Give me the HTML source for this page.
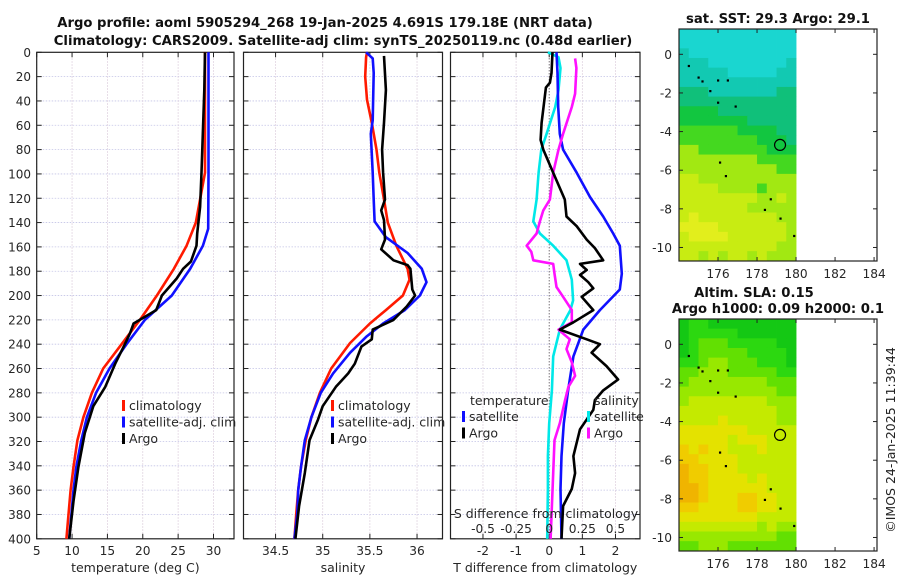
<!DOCTYPE html>
<html><head><meta charset="utf-8"><style>
html,body{margin:0;padding:0;background:#fff;}
svg{display:block;font-family:"DejaVu Sans","Liberation Sans",sans-serif;}
</style></head><body>
<svg id="fig" width="900" height="580" viewBox="0 0 900 580" xmlns="http://www.w3.org/2000/svg">
<text x="325" y="27" text-anchor="middle" font-size="13.2" font-weight="bold" fill="#111">Argo profile: aoml 5905294_268 19-Jan-2025 4.691S 179.18E (NRT data)</text>
<text x="343" y="45" text-anchor="middle" font-size="13.2" font-weight="bold" fill="#111">Climatology: CARS2009. Satellite-adj clim: synTS_20250119.nc (0.48d earlier)</text>
<text x="778" y="23" text-anchor="middle" font-size="13.2" font-weight="bold" fill="#111">sat. SST: 29.3 Argo: 29.1</text>
<text x="754" y="297" text-anchor="middle" font-size="13.2" font-weight="bold" fill="#111">Altim. SLA: 0.15</text>
<text x="778" y="313" text-anchor="middle" font-size="13.2" font-weight="bold" fill="#111">Argo h1000: 0.09 h2000: 0.1</text>
<text transform="translate(895,440) rotate(-90)" text-anchor="middle" font-size="12.5" fill="#222">©IMOS 24-Jan-2025 11:39:44</text>
<g id="layer"></g>
</svg>
<script>
// ---- profile data (depth in m) ----
const tClimDepth = [0,50,99,140,159,178,200,220,240,260,280,300,319,341,360,380,400];
const tClimVal   = [28.8,28.8,28.8,27.5,26.2,24.4,22.0,19.6,17.0,14.4,12.8,11.6,10.75,10.2,9.8,9.5,9.2];
const tSatDepth  = [0,50,100,145,159,178,200,220,240,260,280,300,319,341,360,380,400];
const tSatVal    = [29.3,29.3,29.3,29.25,28.5,26.7,24.1,20.3,17.7,15.3,13.4,12.1,11.3,10.6,10.2,9.9,9.6];
const tArgoDepth = [0,31,99,127,149,159,172,178,186,200,212,223,231,242,256,275,291,313,341,369,400];
const tArgoVal   = [28.8,28.7,28.3,28.1,27.7,27.6,26.8,25.7,24.8,22.7,21.9,18.7,18.2,17.3,16.1,14.7,13.0,11.8,10.9,10.2,9.6];

const sClimDepth = [0,4,20,39,58,80,99,121,140,159,178,187,200,212,223,239,260,280,300,319,341,360,379,400];
const sClimVal   = [35.47,35.46,35.45,35.47,35.52,35.57,35.60,35.65,35.69,35.78,35.90,35.92,35.85,35.67,35.50,35.29,35.09,34.97,34.88,34.82,34.77,34.74,34.72,34.70];
const sSatDepth  = [0,5,17,56,67,99,121,139,152,165,178,189,200,212,223,234,247,264,280,300,319,341,360,379,400];
const sSatVal    = [35.46,35.53,35.54,35.53,35.51,35.53,35.54,35.55,35.67,35.90,36.05,36.10,36.03,35.87,35.64,35.46,35.29,35.11,34.98,34.88,34.81,34.77,34.74,34.73,34.70];
const sArgoDepth = [3,31,58,80,99,121,130,138,154,162,171,175,178,187,195,200,209,220,228,236,242,256,264,275,291,302,319,346,373,400];
const sArgoVal   = [35.65,35.67,35.65,35.63,35.64,35.66,35.62,35.65,35.66,35.62,35.75,35.90,35.93,35.94,35.95,35.98,35.89,35.75,35.53,35.52,35.41,35.34,35.27,35.14,35.00,34.95,34.86,34.81,34.75,34.71];

const dtSatDepth = [0,17,45,67,80,99,119,135,149,159,182,195,212,228,250,278,305,332,359,400];
const dtSatVal   = [0.22,0.25,0.27,0.32,0.42,0.83,1.23,1.63,1.93,2.13,2.19,2.13,1.53,1.03,0.73,0.57,0.44,0.37,0.34,0.37];
const dtArgoDepth = [0,17,25,29,58,72,80,99,121,135,143,154,161,171,174,179,183,189,194,201,212,222,228,236,240,247,258,269,278,286,294,310,332,346,359,373,400];
const dtArgoVal   = [0.10,0.07,0.02,-0.10,-0.23,-0.26,-0.18,0.12,0.47,0.52,0.83,1.13,1.38,1.63,0.93,1.13,0.93,1.18,1.33,0.98,1.33,0.73,0.32,1.13,1.53,1.28,1.73,2.08,1.63,1.38,1.33,0.93,0.73,0.78,0.68,0.42,0.37];
const dsSatDepth = [0,4,13,31,45,67,80,99,121,139,149,159,171,187,204,212,228,250,278,305,332,359,400];
const dsSatVal   = [-0.01,0.07,0.085,0.07,0.045,-0.02,-0.06,-0.08,-0.095,-0.12,-0.07,0.03,0.13,0.17,0.18,0.16,0.08,0.03,0.02,0.0,-0.01,-0.01,-0.015];
const dsArgoDepth = [5,13,34,45,67,80,99,121,130,139,149,159,164,171,174,182,193,201,212,222,228,236,244,255,266,275,286,305,319,346,373,400];
const dsArgoVal   = [0.195,0.205,0.195,0.17,0.105,0.07,0.03,0.005,-0.045,-0.07,-0.095,-0.17,-0.135,-0.12,0.03,0.04,0.055,0.105,0.17,0.17,0.07,0.155,0.13,0.17,0.195,0.145,0.12,0.08,0.04,0.03,0.02,0.01];

const depthTicks = [0,20,40,60,80,100,120,140,160,180,200,220,240,260,280,300,320,340,360,380,400];
const tTicks = [5,10,15,20,25,30];
const sTicks = [34.5,35,35.5,36];
const dtTicks = [-2,-1,0,1,2];
const dsTicks = [-0.5,-0.25,0,0.25,0.5];
const dsTickLabels = ['-0.5','-0.25','0','0.25','0.5'];
const lonTicks = [176,178,180,182,184];
const latTicks = [0,-2,-4,-6,-8,-10];

const sstRows = ["000000000000","000000000000","100000000000","111000000001","111110000011","111111111111","222111111122","222222222222","333322222222","333333322222","444444333322","444444443332","554444444333","555555554444","555555555544","665555555555","666655554555","666666665565","666666655555","676666666655","777766666665","677776666665","666666666655","665656656555"];
const slaRows = ["011000000000","011111000000","012221111100","012222211110","112332221110","223332222211","233333333222","333333333322","344444444333","444444444433","444454444433","555555544444","555554555444","656554445444","665555444444","766555444444","766555545444","776555555444","776555665544","665555665544","555555554444","444444443433","333333333322","223332222222"];
const sstColors = ["#1ad6d0","#12c9b2","#10c07a","#12c640","#44d820","#a2e812","#c8ec12","#e2ee1c"];
const slaColors = ["#14c814","#2cd810","#62e002","#98e800","#c4ea00","#e4e200","#f0cc00","#f0b400"];
const argoLon = 179.18, argoLat = -4.69;
const islandLon = [174.5,175.0,175.2,176.0,176.5,175.6,176.0,176.9,176.1,176.4,178.7,178.4,179.2,179.9];
const islandLat = [-0.6,-1.2,-1.4,-1.35,-1.35,-1.9,-2.5,-2.7,-5.6,-6.3,-7.5,-8.05,-8.5,-9.4];

const NS='http://www.w3.org/2000/svg';
const layer=document.getElementById('layer');
function el(tag,attrs,parent){const e=document.createElementNS(NS,tag);for(const k in attrs)e.setAttribute(k,attrs[k]);(parent||layer).appendChild(e);return e;}
function txt(x,y,s,size,anchor,parent){const t=el('text',{x:x,y:y,'font-size':size,'text-anchor':anchor||'middle',fill:'#262626'},parent);t.textContent=s;return t;}

const top0=52.3, bot0=538.8;
function yD(d){return top0+(d/400)*(bot0-top0);}
function lin(d0,d1,r0,r1){return v=>r0+(v-d0)/(d1-d0)*(r1-r0);}

function panel(name,x0,x1,xmin,xmax,ticks,tickLbls,xlabel){
  const g=el('g',{});
  
  
  const xs=lin(xmin,xmax,x0,x1);
  depthTicks.forEach(d=>{ if(d>0&&d<400){const l=el('line',{x1:x0,x2:x1,y1:yD(d),y2:yD(d),stroke:'#c4c4e6','stroke-width':0.8,'stroke-dasharray':'1.5,1.5'},g);}
    el('line',{x1:x0,x2:x0+5,y1:yD(d),y2:yD(d),stroke:'#222','stroke-width':1},g);
    el('line',{x1:x1-5,x2:x1,y1:yD(d),y2:yD(d),stroke:'#222','stroke-width':1},g);});
  ticks.forEach((t,i)=>{const X=xs(t);
    const l=el('line',{x1:X,x2:X,y1:top0,y2:bot0,stroke:'#d8c8d8','stroke-width':0.8,'stroke-dasharray':'1.5,1.5'},g);
    
    el('line',{x1:X,x2:X,y1:bot0,y2:bot0-5,stroke:'#222'},g);el('line',{x1:X,x2:X,y1:top0,y2:top0+5,stroke:'#222'},g);
    if(tickLbls){const tt=txt(X,555,tickLbls[i],12.2,'middle',g);}});
  const b=el('rect',{x:x0,y:top0,width:x1-x0,height:bot0-top0,fill:'none',stroke:'#222','stroke-width':1.2},g);
  
  const xl=txt((x0+x1)/2,572,xlabel,12.5,'middle',g);
  
  return {g,xs};
}
function curve(p,depths,vals,color,name,scale){
  const pts=depths.map((d,i)=>p.xs(vals[i]*(scale||1)).toFixed(1)+','+yD(d).toFixed(1)).join(' ');
  const c=el('polyline',{points:pts,fill:'none',stroke:color,'stroke-width':2.6,'stroke-linejoin':'round'},p.g);
  
  
}
function legend(p,x,y,items){
  items.forEach((it,i)=>{
    const r=el('rect',{x:x,y:y+i*16.5-11,width:3,height:11,fill:it[1]},p.g);
    
    const t=txt(x+7,y+i*16.5-1,it[0],12.5,'start',p.g);
    
  });
}

depthTicks.forEach(d=>{const t=txt(31,yD(d)+4.5,String(d),12,'end');});

const p1=panel('temperature-panel',36.7,234,5,32.9,tTicks,tTicks.map(String),'temperature (deg C)');
curve(p1,tClimDepth,tClimVal,'#ff1a00','temp-climatology-line');
curve(p1,tSatDepth,tSatVal,'#1010ff','temp-satellite-line');
curve(p1,tArgoDepth,tArgoVal,'#000','temp-argo-line');
legend(p1,122,411,[['climatology','#ff1a00'],['satellite-adj. clim','#1010ff'],['Argo','#000']]);

const p2=panel('salinity-panel',243.5,442.5,34.16,36.27,sTicks,sTicks.map(String),'salinity');
curve(p2,sClimDepth,sClimVal,'#ff1a00','sal-climatology-line');
curve(p2,sSatDepth,sSatVal,'#1010ff','sal-satellite-line');
curve(p2,sArgoDepth,sArgoVal,'#000','sal-argo-line');
legend(p2,331,411,[['climatology','#ff1a00'],['satellite-adj. clim','#1010ff'],['Argo','#000']]);

const p3=panel('difference-panel',450.5,640,-2.98,2.74,dtTicks,dtTicks.map(String),'T difference from climatology');
const z=el('line',{x1:p3.xs(0),x2:p3.xs(0),y1:top0,y2:bot0,stroke:'#555','stroke-width':1,'stroke-dasharray':'1,2'},p3.g);

curve(p3,dsSatDepth,dsSatVal,'#00e8e8','sal-diff-satellite-line',4);
curve(p3,dtSatDepth,dtSatVal,'#1010ff','temp-diff-satellite-line');
curve(p3,dsArgoDepth,dsArgoVal,'#ff10ff','sal-diff-argo-line',4);
curve(p3,dtArgoDepth,dtArgoVal,'#000','temp-diff-argo-line');
let lt=txt(470,405,'temperature',12.5,'start',p3.g);
lt=txt(594,405,'salinity',12.5,'start',p3.g);
legend(p3,462,422,[['satellite','#1010ff'],['Argo','#000']]);
legend(p3,587,422,[['satellite','#00e8e8'],['Argo','#ff10ff']]);
lt=txt(546,518,'S difference from climatology',12.5,'middle',p3.g);
dsTicks.forEach((v,i)=>{const t=txt(p3.xs(v*4),533,dsTickLabels[i],12.2,'middle',p3.g);});

function map(name,top,bottom,rows,colors){
  const g=el('g',{});
  
  
  const x0=679,x1=877,latTop=1.31,latBot=-10.7,lonL=174,lonR=184.15;
  const xs=lin(lonL,lonR,x0,x1), ys=lin(latTop,latBot,top,bottom);
  rows.forEach((r,i)=>{for(let j=0;j<r.length;j++){
    const la=latTop-i*0.5, lo=lonL+j*0.5;
    const c=el('rect',{x:xs(lo).toFixed(2),y:ys(la).toFixed(2),width:(xs(lo+0.5)-xs(lo)+0.4).toFixed(2),height:(Math.min(ys(la-0.5),bottom)-ys(la)+0.4).toFixed(2),fill:colors[+r[j]]},g);
    }});
  islandLon.forEach((lo,i)=>{const d=el('rect',{x:xs(lo)-1,y:ys(islandLat[i])-1,width:2.2,height:2.2,fill:'#000'},g);});
  const c=el('circle',{cx:xs(argoLon),cy:ys(argoLat),r:5.5,fill:'none',stroke:'#000','stroke-width':1.2},g);
  
  const b=el('rect',{x:x0,y:top,width:x1-x0,height:bottom-top,fill:'none',stroke:'#222','stroke-width':1.2},g);
  
  lonTicks.forEach(lo=>{const X=xs(lo);el('line',{x1:X,x2:X,y1:bottom,y2:bottom-4,stroke:'#222'},g);el('line',{x1:X,x2:X,y1:top,y2:top+4,stroke:'#222'},g);
    const t=txt(X,bottom+17,String(lo),12.2,'middle',g);});
  latTicks.forEach(la=>{const Y=ys(la);el('line',{x1:x0,x2:x0+4,y1:Y,y2:Y,stroke:'#222'},g);el('line',{x1:x1-4,x2:x1,y1:Y,y2:Y,stroke:'#222'},g);
    const t=txt(672,Y+4.5,String(la),12.2,'end',g);});
}
map('sst-map',29,261,sstRows,sstColors);
map('sla-map',319,551,slaRows,slaColors);
</script>
</body></html>
